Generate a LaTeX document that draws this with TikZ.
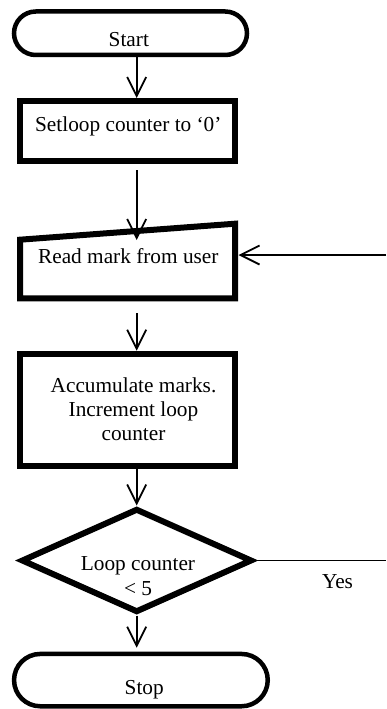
\documentclass[tikz,border=0pt]{standalone}
\usepackage{fontspec}
\setmainfont{Liberation Serif}
\usetikzlibrary{arrows.meta,shapes.geometric}

\begin{document}
\begin{tikzpicture}[x=1pt,y=-1pt,>={Straight Barb[length=19pt,width=19pt]},
		conn/.style={line width=1.8pt},
		term/.style={draw,line width=4.5pt,inner sep=0pt},
		procbox/.style={draw,line width=6pt,inner sep=0pt,minimum width=215pt},
		decision/.style={draw,diamond,line width=6pt,inner sep=0pt},
		txt/.style={font=\fontsize{21.3}{23.8}\selectfont,inner sep=0pt,anchor=base,align=center}]
		% The frame
		\useasboundingbox (0,0) rectangle (386,709);
		\coordinate (axis) at (136.7,0);
		\coordinate (back) at (386,255);
		\coordinate (yesend) at (386,560.5);

		% The shapes
		\node[term,rounded corners=21.75pt,minimum width=233pt,minimum height=43.5pt] (start) at (130.5,33.25) {};
		\node[procbox,minimum height=59.5pt] (setbox) at (127.5,130.75) {};
		\node[procbox,draw=none,outer sep=0pt,minimum height=74.6pt] (read) at (127.5,261) {};
		\draw[line width=6pt,line join=miter] (read.south west) -- ([yshift=-16pt]read.north west) -- (read.north east) -- (read.south east) -- cycle;
		\node[procbox,minimum height=112.3pt] (accbox) at (127.5,409.85) {};
		\node[decision,minimum width=231pt,minimum height=104pt] (dec) at (136.7,560.5) {};
		\node[term,rounded corners=26.15pt,minimum width=253.7pt,minimum height=52.3pt] (stop) at (140.9,680.1) {};

		% The texts (base is the last line)
		\node[txt] (startlbl) at (128.8,46.7) {Start};
		\node[txt] (setlbl) at (128.3,131.5) {Setloop counter to ‘0’};
		\node[txt] (readlbl) at (128.3,263.3) {Read mark from user};
		\node[txt] (acclbl) at (133.5,440.5) {Accumulate marks.\\Increment loop\\counter};
		\node[txt,font=\fontsize{21.3}{25}\selectfont] (declbl) at (138,595) {Loop counter\\< 5};
		\node[txt] (yeslbl) at (337.5,588) {Yes};
		\node[txt] (stoplbl) at (144.2,694.5) {Stop};

		% The arrows
		\draw[conn,->] (start.south -| axis) -- (setbox.north -| axis);
		\draw[conn,->,shorten <=6.5pt] (setbox.south -| axis) -- ([yshift=-16.3pt]read.north -| axis);
		\draw[conn,->,shorten >=3.5pt] (back) -- (back -| read.east);
		\draw[conn,->,shorten <=14.7pt] (read.south -| axis) -- (accbox.north -| axis);
		\draw[conn,->] (accbox.south -| axis) -- (dec.north);
		\draw[conn,->,shorten >=4pt] (dec.south) -- (stop.north -| axis);
		\draw[conn] (dec.east) -- (yesend);
	\end{tikzpicture}
\end{document}
